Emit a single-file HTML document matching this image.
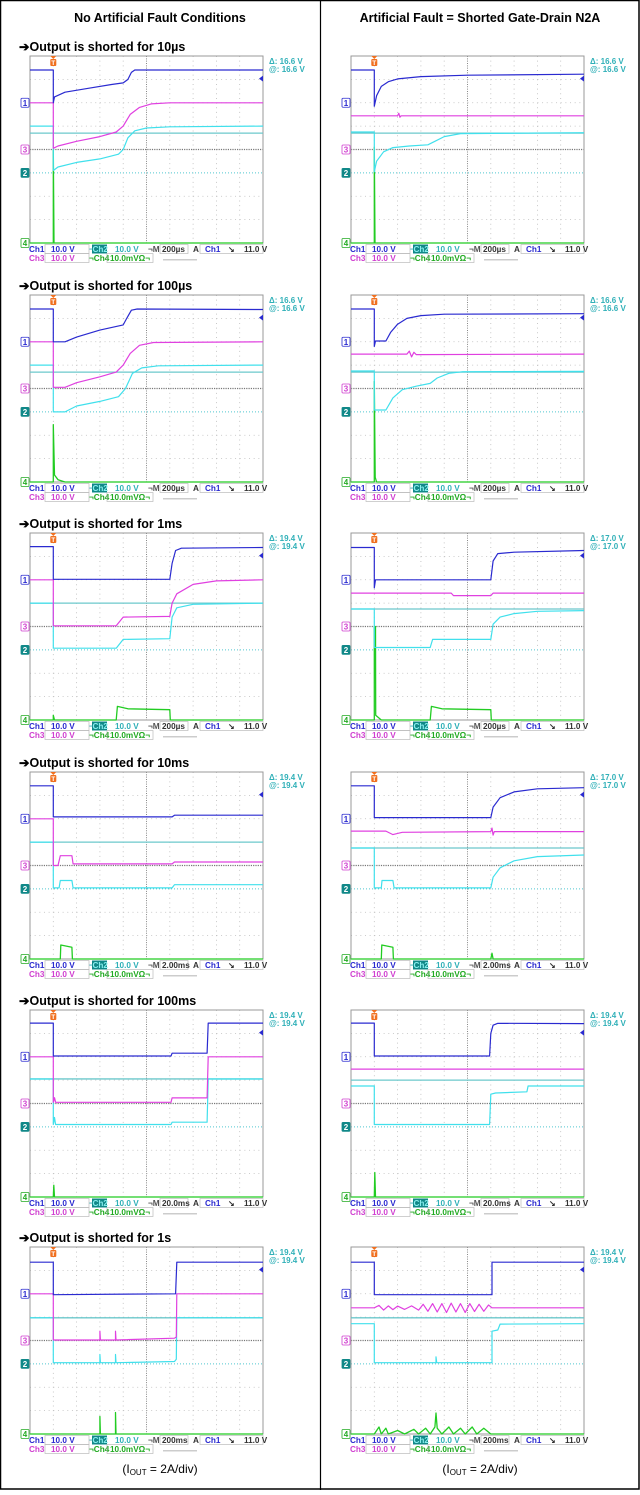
<!DOCTYPE html>
<html><head><meta charset="utf-8">
<style>
html,body{margin:0;padding:0;background:#fff;}
body{width:640px;height:1490px;overflow:hidden;font-family:"Liberation Sans",sans-serif;}
svg text{font-family:"Liberation Sans",sans-serif;}
</style></head>
<body>
<svg id="page" width="640" height="1490" viewBox="0 0 640 1490" xmlns="http://www.w3.org/2000/svg">
<rect x="0.5" y="0.5" width="638.5" height="1488.5" fill="#fff" stroke="#000" stroke-width="1.5"/>
<line x1="320.5" y1="0" x2="320.5" y2="1490" stroke="#000" stroke-width="1.2"/>
<text x="160" y="22" text-anchor="middle" font-size="12.5" font-weight="bold">No Artificial Fault Conditions</text>
<text x="480" y="22" text-anchor="middle" font-size="12.5" font-weight="bold">Artificial Fault = Shorted Gate-Drain N2A</text>
<text x="160" y="1473" text-anchor="middle" font-size="12">(I<tspan font-size="8" dy="2">OUT</tspan><tspan dy="-2"> = 2A/div)</tspan></text>
<text x="480" y="1473" text-anchor="middle" font-size="12">(I<tspan font-size="8" dy="2">OUT</tspan><tspan dy="-2"> = 2A/div)</tspan></text>
</svg>
<script>
// Each trace: [time (div, 0..10), level (div from top, 0..8)]
const rowTitles = ["10\u00b5s","100\u00b5s","1ms","10ms","100ms","1s"];
const timebase = ["200\u00b5s","200\u00b5s","200\u00b5s","2.00ms","20.0ms","200ms"];
const deltaLeft = ["16.6","16.6","19.4","19.4","19.4","19.4"];
const deltaRight = ["16.6","16.6","17.0","17.0","19.4","19.4"];
const refLeft = [3.3,3.3,3.0,3.0,2.95,3.03];
const refRight = [3.3,3.3,3.25,3.25,3.0,3.03];

const r1L_ch1=[[0,.6],[1,.6],[1,2.0],[1.05,1.75],[1.5,1.55],[2.5,1.38],[3.5,1.22],[4.0,1.15],[4.2,1.0],[4.35,.7],[4.5,.6],[10,.6]];
const r1L_ch3=[[0,2],[1,2],[1,3.95],[1.2,3.85],[2,3.65],[3,3.45],[3.7,3.25],[4.0,3.0],[4.3,2.5],[4.7,2.2],[5.2,2.05],[6,2],[10,2]];
const r1L_ch2=[[0,3],[1,3],[1,4.9],[1.2,4.75],[2,4.55],[3,4.4],[3.8,4.2],[4.0,4.0],[4.2,3.5],[4.5,3.2],[5,3.08],[6,3.03],[10,3]];
const r1L_ch4=[[0,8],[1,8],[1,4.0],[1.03,8],[10,8]];
const r1R_ch1=[[0,.6],[1,.6],[1,2.15],[1.1,1.7],[1.3,1.3],[1.6,1.1],[2,.98],[3,.88],[5,.82],[10,.78]];
const r1R_ch3=[[0,2.56],[2,2.56],[2.05,2.45],[2.1,2.62],[2.15,2.56],[10,2.56]];
const r1R_ch2=[[0,3.25],[1,3.25],[1,4.95],[1.1,4.5],[1.4,4.1],[1.8,3.92],[2.5,3.85],[3.3,3.8],[3.6,3.65],[4.0,3.45],[4.7,3.32],[10,3.28]];
const r1R_ch4=[[0,8],[1,8],[1,3.9],[1.03,8],[10,8]];

const r2L_ch1=[[0,.6],[1,.6],[1,2.0],[1.5,2.0],[2,1.8],[3,1.5],[4,1.28],[4.15,1.0],[4.35,.65],[4.6,.6],[10,.62]];
const r2L_ch3=[[0,2],[1,2],[1,3.95],[1.5,3.95],[2,3.75],[3,3.5],[3.7,3.3],[4.0,3.0],[4.3,2.5],[4.7,2.15],[5.3,2.03],[10,2]];
const r2L_ch2=[[0,3],[1,3],[1,5.0],[1.5,5.0],[2,4.75],[3,4.55],[3.8,4.35],[4.1,4.0],[4.4,3.35],[4.8,3.12],[5.5,3.03],[10,3]];
const r2L_ch4=[[0,8],[1,8],[1,5.55],[1.05,7.7],[1.2,7.9],[1.5,8],[10,8]];
const r2R_ch1=[[0,.6],[1,.6],[1,2.2],[1.05,1.97],[1.5,1.97],[1.7,1.6],[2,1.25],[2.4,1.0],[3,.88],[4,.82],[10,.8]];
const r2R_ch3=[[0,2.53],[2.4,2.53],[2.5,2.4],[2.6,2.65],[2.7,2.45],[2.8,2.55],[10,2.53]];
const r2R_ch2=[[0,3.25],[1,3.25],[1,4.92],[1.5,4.92],[1.8,4.4],[2.2,4.05],[2.8,3.9],[3.4,3.78],[3.7,3.55],[4.2,3.35],[4.8,3.28],[10,3.27]];
const r2R_ch4=[[0,8],[1,8],[1,3.7],[1.04,7.8],[1.1,8],[10,8]];

const r3L_ch1=[[0,.58],[1,.58],[1,1.98],[6.0,1.98],[6.1,1.3],[6.25,.75],[6.5,.65],[10,.62]];
const r3L_ch3=[[0,2],[1,2],[1,3.97],[3.7,3.97],[4.0,3.6],[6.0,3.57],[6.1,3.0],[6.3,2.6],[7,2.2],[8,2.05],[10,2.0]];
const r3L_ch2=[[0,3],[1,3],[1,4.93],[3.7,4.93],[4.0,4.55],[6.0,4.52],[6.1,3.6],[6.3,3.2],[7,3.05],[10,3.0]];
const r3L_ch4=[[0,8],[1,8],[1,7.8],[1.05,8],[3.7,8],[3.75,7.42],[4.2,7.52],[6.0,7.56],[6.02,8],[10,8]];
const r3R_ch1=[[0,.62],[1,.62],[1,2.35],[1.05,2.0],[6.0,2.0],[6.1,1.2],[6.3,.88],[7,.82],[10,.75]];
const r3R_ch3=[[0,2.57],[4.3,2.57],[4.4,2.68],[6.0,2.68],[6.1,2.57],[10,2.57]];
const r3R_ch2=[[0,3.25],[1,3.25],[1,4.9],[3.4,4.9],[3.5,4.55],[6.0,4.55],[6.1,3.9],[6.4,3.6],[7,3.45],[8,3.35],[10,3.32]];
const r3R_ch4=[[0,8],[1,8],[1,4.0],[1.05,4.0],[1.06,7.8],[1.3,8],[3.4,8],[3.45,7.42],[3.9,7.52],[6.0,7.56],[6.02,8],[10,8]];

const r4L_ch1=[[0,.59],[1,.59],[1,1.92],[6.1,1.92],[6.2,1.85],[10,1.85]];
const r4L_ch3=[[0,2],[1,2],[1,4.0],[1.2,4.0],[1.3,3.58],[1.8,3.58],[1.85,3.93],[6.1,3.93],[6.2,3.85],[10,3.85]];
const r4L_ch2=[[0,3],[1,3],[1,4.96],[1.25,4.96],[1.3,4.64],[1.8,4.64],[1.85,4.96],[6.1,4.96],[6.2,4.82],[10,4.82]];
const r4L_ch4=[[0,8],[1.3,8],[1.32,7.4],[1.8,7.5],[1.82,8],[10,8]];
const r4R_ch1=[[0,.59],[1,.59],[1,1.95],[6.0,1.95],[6.1,1.5],[6.4,1.1],[7,.85],[8,.72],[10,.67]];
const r4R_ch3=[[0,2.53],[1.5,2.53],[1.8,2.68],[2.2,2.58],[6.0,2.55],[6.05,2.4],[6.1,2.7],[6.15,2.55],[10,2.55]];
const r4R_ch2=[[0,3.25],[1,3.25],[1,4.96],[1.3,4.96],[1.33,4.64],[1.8,4.64],[1.85,4.96],[6.0,4.96],[6.1,4.5],[6.4,4.1],[7,3.8],[8,3.62],[10,3.55]];
const r4R_ch4=[[0,8],[1.3,8],[1.32,7.4],[1.8,7.5],[1.82,8],[6.0,8],[6.05,7.75],[6.1,8],[10,8]];

const r5L_ch1=[[0,.56],[1,.56],[1,1.97],[6.05,1.97],[6.1,1.85],[7.6,1.85],[7.65,.56],[10,.56]];
const r5L_ch3=[[0,2],[1,2],[1,3.95],[1.05,3.75],[1.1,3.95],[6.05,3.95],[6.1,3.76],[7.6,3.76],[7.65,2.0],[10,2.0]];
const r5L_ch2=[[0,2.95],[1,2.95],[1,4.9],[1.05,4.6],[1.1,4.9],[6.05,4.9],[6.1,4.8],[7.6,4.8],[7.65,2.95],[10,2.95]];
const r5L_ch4=[[0,8],[1,8],[1.02,7.5],[1.05,8],[10,8]];
const r5R_ch1=[[0,.56],[1,.56],[1,1.97],[5.95,1.97],[6.0,1.0],[6.1,.65],[6.3,.57],[10,.58]];
const r5R_ch3=[[0,2.53],[10,2.53]];
const r5R_ch2=[[0,3.25],[1,3.25],[1,4.9],[5.95,4.9],[6.0,3.6],[6.2,3.55],[7.55,3.5],[7.6,3.25],[10,3.25]];
const r5R_ch4=[[0,8],[1,8],[1.02,6.95],[1.05,8],[10,8]];

const r6L_ch1=[[0,.65],[1,.65],[1,2.04],[6.25,2.0],[6.3,.65],[10,.65]];
const r6L_ch3=[[0,2],[1,2],[1,3.98],[3.0,3.98],[3.0,3.6],[3.02,3.98],[3.67,3.98],[3.67,3.6],[3.69,3.98],[6.2,3.9],[6.28,3.85],[6.3,2.0],[10,2.0]];
const r6L_ch2=[[0,3.03],[1,3.03],[1,4.95],[3.0,4.95],[3.0,4.6],[3.02,4.95],[3.67,4.95],[3.67,4.6],[3.69,4.95],[6.2,4.9],[6.28,4.8],[6.3,3.03],[10,3.03]];
const r6L_ch4=[[0,8],[3.0,8],[3.0,7.25],[3.02,8],[3.67,8],[3.67,7.08],[3.69,8],[10,8]];
const r6R_ch1=[[0,.65],[1,.65],[1,2.04],[6.05,2.04],[6.05,.65],[10,.65]];
const r6R_ch3=[[0,2.6],[1,2.6],[1.2,2.5],[1.4,2.7],[1.6,2.52],[1.8,2.68],[2.0,2.53],[2.3,2.67],[2.6,2.52],[2.9,2.7],[3.1,2.45],[3.3,2.75],[3.5,2.42],[3.7,2.78],[3.9,2.42],[4.1,2.8],[4.3,2.4],[4.5,2.78],[4.7,2.42],[4.9,2.8],[5.1,2.42],[5.3,2.76],[5.5,2.45],[5.7,2.75],[5.9,2.48],[6.05,2.6],[10,2.6]];
const r6R_ch2=[[0,3.28],[1,3.28],[1,4.95],[3.65,4.95],[3.65,4.7],[3.68,4.95],[6.05,4.95],[6.05,3.6],[6.3,3.55],[6.4,3.3],[10,3.28]];
const r6R_ch4=[[0,8],[1,8],[1.2,7.7],[1.3,8],[1.5,7.75],[1.6,8],[2.0,7.85],[2.3,8],[2.7,7.8],[2.9,8],[3.2,7.75],[3.4,8],[3.6,7.7],[3.65,7.1],[3.7,7.75],[3.9,8],[4.2,7.7],[4.4,8],[4.7,7.75],[4.9,8],[5.2,7.7],[5.4,8],[5.7,7.75],[6.0,8],[10,8]];

const tracesL=[[r1L_ch1,r1L_ch3,r1L_ch2,r1L_ch4],[r2L_ch1,r2L_ch3,r2L_ch2,r2L_ch4],[r3L_ch1,r3L_ch3,r3L_ch2,r3L_ch4],[r4L_ch1,r4L_ch3,r4L_ch2,r4L_ch4],[r5L_ch1,r5L_ch3,r5L_ch2,r5L_ch4],[r6L_ch1,r6L_ch3,r6L_ch2,r6L_ch4]];
const tracesR=[[r1R_ch1,r1R_ch3,r1R_ch2,r1R_ch4],[r2R_ch1,r2R_ch3,r2R_ch2,r2R_ch4],[r3R_ch1,r3R_ch3,r3R_ch2,r3R_ch4],[r4R_ch1,r4R_ch3,r4R_ch2,r4R_ch4],[r5R_ch1,r5R_ch3,r5R_ch2,r5R_ch4],[r6R_ch1,r6R_ch3,r6R_ch2,r6R_ch4]];

const NS="http://www.w3.org/2000/svg";
const svg=document.getElementById('page');
const TOPS=[56,295,533,772,1010,1247];
const GW=233, GH=187;
const COLORS=["#2a2ad0","#e040e0","#40e0ec","#22cc22"];
const CHN=["ch1","ch3","ch2","ch4"];
function mk(tag,attrs,parent){const e=document.createElementNS(NS,tag);for(const k in attrs)e.setAttribute(k,attrs[k]);(parent||svg).appendChild(e);return e;}
function txt(x,y,s,attrs,parent){const e=mk('text',Object.assign({x:x,y:y},attrs),parent);e.textContent=s;return e;}

function drawPanel(x0,y0,row,side,traces,ref,delta){
  const g=mk('g',{});
  
  
  const sx=t=>x0+t*GW/10, sy=v=>y0+v*GH/8;
  // graticule
  for(let i=1;i<10;i++){const l=mk('line',{x1:sx(i),y1:y0,x2:sx(i),y2:y0+GH,stroke:i==5?'#888':'#bbb','stroke-width':i==5?1:0.8,'stroke-dasharray':i==5?'1 1.33':'1 3.66'},g);
    }
  for(let j=1;j<8;j++){if(j==5)continue;const l=mk('line',{x1:x0,y1:sy(j),x2:x0+GW,y2:sy(j),stroke:j==4?'#777':'#bbb','stroke-width':j==4?1.2:0.8,'stroke-dasharray':j==4?'1.2 1.1':'1 3.66'},g);
    }
  const gl=mk('line',{x1:x0,y1:sy(5),x2:x0+GW,y2:sy(5),stroke:'#50c8d0','stroke-width':1,'stroke-dasharray':'1 2'},g);
  
  const fr=mk('rect',{x:x0,y:y0,width:GW,height:GH,fill:'none',stroke:'#999','stroke-width':1},g);
  
  // reference line
  const rl=mk('line',{x1:x0,y1:sy(ref),x2:x0+GW,y2:sy(ref),stroke:'#6cc8cc','stroke-width':1.3},g);
  
  // traces
  const order=[3,2,1,0];
  order.forEach(k=>{const pts=traces[k].map(p=>sx(p[0]).toFixed(1)+','+sy(p[1]).toFixed(1)).join(' ');
    const pl=mk('polyline',{points:pts,fill:'none',stroke:COLORS[k],'stroke-width':k==3?1.3:1.2,'stroke-linejoin':'round'},g);
    });
  // ground markers
  const mks=[["1",2,"#fff","#2a2ad0"],["3",4,"#fff","#d040d0"],["2",5,"#108888","#fff"],["4",8,"#fff","#22aa22"]];
  mks.forEach(m=>{const mg=mk('g',{},g);
    
    mk('rect',{x:x0-9,y:sy(m[1])-4.5,width:8,height:9,fill:m[2],stroke:m[0]=="2"?'#108888':m[3],'stroke-width':0.8,rx:1},mg);
    txt(x0-5,sy(m[1])+3,m[0],{'font-size':8,'text-anchor':'middle',fill:m[0]=="2"?'#fff':m[3],'font-weight':'bold'},mg);});
  // trigger marker
  const tg=mk('g',{},g);
  
  mk('path',{d:`M${sx(1)-3},${y0} L${sx(1)+3},${y0} L${sx(1)},${y0+3} Z`,fill:'#f07020'},tg);
  mk('rect',{x:sx(1)-3,y:y0+3,width:6,height:7,fill:'#f07020',rx:1},tg);
  txt(sx(1),y0+9,'T',{'font-size':6.5,'text-anchor':'middle',fill:'#fff','font-weight':'bold'},tg);
  // trigger level arrow right
  const ta=mk('path',{d:`M${x0+GW-4},${sy(0.97)} L${x0+GW},${sy(0.97)-3} L${x0+GW},${sy(0.97)+3} Z`,fill:'#2a2ad0'},g);
  
  // delta readout
  const d1=txt(x0+GW+6,y0+8,'\u0394: '+delta+' V',{'font-size':8,fill:'#30b0b8','font-weight':'bold'},g);
  
  const d2=txt(x0+GW+6,y0+16,'@: '+delta+' V',{'font-size':8,fill:'#30b0b8','font-weight':'bold'},g);
  
  // settings bar
  const b1=y0+GH+9, b2=y0+GH+18;
  const sb=mk('g',{'font-size':8.2,'font-weight':'bold'},g);
  
  const box=(x,y,w)=>mk('rect',{x:x,y:y-7.5,width:w,height:9,fill:'none',stroke:'#bbb','stroke-width':0.7},sb);
  txt(x0-1,b1,'Ch1',{fill:'#2a2ad0'},sb);
  box(x0+15,b1,44);txt(x0+21,b1,'10.0 V',{fill:'#2a2ad0'},sb);
  txt(x0+59,b1,'\u00ac',{fill:'#30b0b8'},sb);
  mk('rect',{x:x0+62,y:b1-7.5,width:15,height:9,fill:'#108888'},sb);
  txt(x0+62.5,b1,'Ch2',{fill:'#8ee'},sb);
  txt(x0+85,b1,'10.0 V',{fill:'#30b0b8'},sb);
  txt(x0+118,b1,'\u00acM',{fill:'#555'},sb);
  box(x0+130,b1,28);txt(x0+132,b1,timebase[row],{fill:'#333'},sb);
  txt(x0+163,b1,'A',{fill:'#333'},sb);
  box(x0+170,b1,63);txt(x0+175,b1,'Ch1',{fill:'#2a2ad0'},sb);
  txt(x0+198,b1,'\u2198',{fill:'#333'},sb);
  txt(x0+214,b1,'11.0 V',{fill:'#333'},sb);
  txt(x0-1,b2,'Ch3',{fill:'#d040d0'},sb);
  box(x0+15,b2,44);txt(x0+21,b2,'10.0 V',{fill:'#d040d0'},sb);
  txt(x0+59,b2,'\u00acCh4',{fill:'#22aa22'},sb);
  box(x0+77,b2,46);txt(x0+80,b2,'10.0mV\u03a9\u00ac',{fill:'#22aa22'},sb);
  mk('rect',{x:x0+133,y:b2-2,width:34,height:1.5,fill:'#ccc'},sb);
}

for(let r=0;r<6;r++){
  const t=txt(19,TOPS[r]-5,'\u2794Output is shorted for '+rowTitles[r],{'font-size':12.5,'font-weight':'bold'});
  
  
  drawPanel(30,TOPS[r],r,'left',tracesL[r],refLeft[r],deltaLeft[r]);
  drawPanel(351,TOPS[r],r,'right',tracesR[r],refRight[r],deltaRight[r]);
}
</script>
</body></html>
